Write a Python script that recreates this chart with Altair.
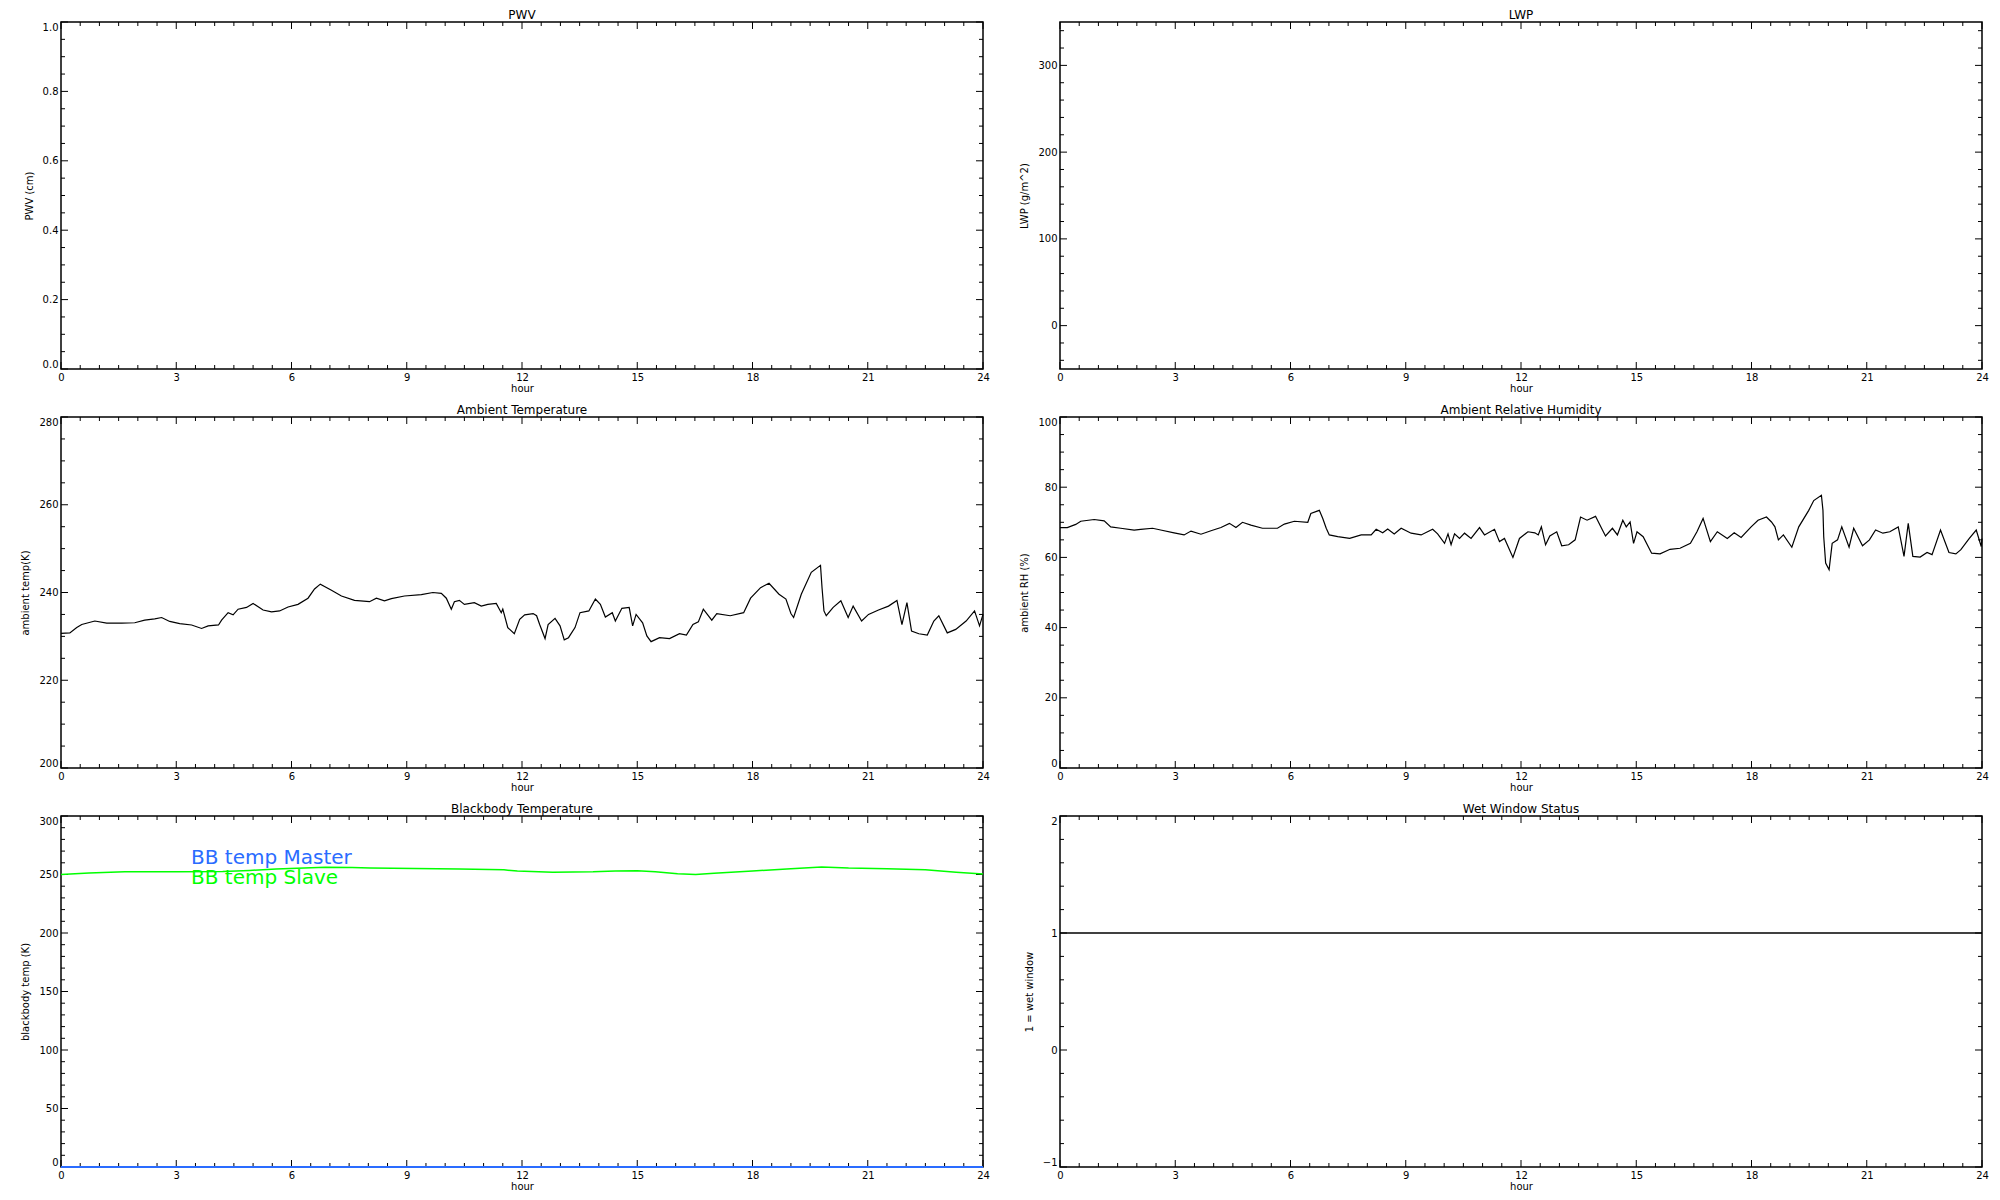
import altair as alt
import pandas as pd

# ---------------- data ----------------
panel_titles = ["PWV", "LWP", "Ambient Temperature", "Ambient Relative Humidity",
                "Blackbody Temperature", "Wet Window Status"]
y_titles = ["PWV (cm)", "LWP (g/m^2)", "ambient temp(K)", "ambient RH (%)",
            "blackbody temp (K)", "1 = wet window"]

temp_hour = [0, 0.23, 0.41, 0.54, 0.71, 0.88, 1.19, 1.58, 1.92, 2.18,
             2.44, 2.62, 2.83, 3.09, 3.4, 3.66, 3.83, 4.1, 4.18, 4.35,
             4.48, 4.61, 4.83, 5.0, 5.26, 5.48, 5.69, 5.91, 6.17, 6.43,
             6.6, 6.75, 7.04, 7.3, 7.64, 8.03, 8.21, 8.42, 8.6, 8.94,
             9.38, 9.68, 9.9, 10.03, 10.16, 10.24, 10.37, 10.5, 10.76, 10.94,
             11.11, 11.33, 11.46, 11.5, 11.63, 11.8, 11.94, 12.07, 12.29, 12.38,
             12.46, 12.6, 12.68, 12.86, 12.99, 13.1, 13.21, 13.38, 13.51, 13.74,
             13.91, 14.04, 14.17, 14.35, 14.43, 14.6, 14.79, 14.88, 14.97, 15.14,
             15.25, 15.36, 15.58, 15.84, 16.1, 16.28, 16.45, 16.59, 16.72, 16.94,
             17.07, 17.42, 17.77, 17.95, 18.21, 18.43, 18.69, 18.87, 19.0, 19.07,
             19.27, 19.53, 19.77, 19.81, 19.86, 19.92, 20.1, 20.3, 20.49, 20.62,
             20.84, 21.02, 21.28, 21.54, 21.76, 21.89, 22.02, 22.14, 22.33, 22.55,
             22.72, 22.85, 23.07, 23.29, 23.56, 23.78, 23.91, 24.0]
temp_val = [230.7, 230.8, 232, 232.7, 233.1, 233.5, 233, 233, 233.1, 233.7,
            234, 234.3, 233.4, 232.9, 232.6, 231.8, 232.4, 232.6, 233.7, 235.4,
            234.9, 236.2, 236.6, 237.5, 236, 235.6, 235.8, 236.7, 237.3, 238.7,
            240.8, 241.9, 240.5, 239.2, 238.2, 237.9, 238.7, 238.1, 238.6, 239.2,
            239.5, 240, 239.8, 238.7, 236.2, 237.9, 238.2, 237.3, 237.7, 236.9,
            237.3, 237.5, 235.4, 236.2, 232, 230.6, 233.9, 234.9, 235.2, 234.7,
            232.7, 229.5, 232.7, 234.1, 232.4, 229.2, 229.7, 232, 235.4, 235.8,
            238.5, 237.3, 234.4, 235.4, 233.5, 236.4, 236.6, 232.4, 235, 233.1,
            230.1, 228.8, 229.7, 229.5, 230.6, 230.3, 232.7, 233.3, 236.2, 233.7,
            235.2, 234.7, 235.4, 238.7, 241.1, 242.1, 239.6, 238.5, 235.2, 234.3,
            239.6, 244.6, 246.2, 241.1, 235.8, 234.7, 236.6, 238.1, 234.3, 236.9,
            233.5, 235, 236, 236.9, 238.2, 232.7, 237.7, 231.2, 230.6, 230.3,
            233.5, 234.7, 230.8, 231.6, 233.5, 235.8, 232.4, 235]

rh_hour = [0, 0.19, 0.41, 0.54, 0.89, 1.15, 1.32, 1.58, 1.93, 2.1,
           2.41, 2.62, 2.97, 3.23, 3.41, 3.67, 3.93, 4.19, 4.41, 4.58,
           4.75, 4.97, 5.27, 5.66, 5.84, 6.1, 6.45, 6.53, 6.75, 6.84,
           6.93, 7.01, 7.23, 7.54, 7.84, 8.1, 8.23, 8.4, 8.53, 8.7,
           8.88, 9.14, 9.4, 9.7, 9.83, 10.01, 10.1, 10.18, 10.27, 10.4,
           10.53, 10.7, 10.92, 11.05, 11.31, 11.44, 11.57, 11.79, 11.96, 12.18,
           12.36, 12.45, 12.53, 12.64, 12.75, 12.93, 13.06, 13.24, 13.41, 13.55,
           13.72, 13.94, 14.12, 14.2, 14.38, 14.51, 14.65, 14.74, 14.84, 14.93,
           15.02, 15.18, 15.4, 15.62, 15.88, 16.14, 16.41, 16.58, 16.74, 16.93,
           17.11, 17.37, 17.55, 17.73, 17.99, 18.17, 18.39, 18.52, 18.61, 18.7,
           18.83, 19.05, 19.23, 19.49, 19.62, 19.82, 19.86, 19.88, 19.93, 20.02,
           20.1, 20.24, 20.35, 20.54, 20.66, 20.89, 21.07, 21.23, 21.42, 21.6,
           21.82, 21.97, 22.08, 22.2, 22.39, 22.57, 22.7, 22.92, 23.14, 23.32,
           23.45, 23.67, 23.85, 23.98, 24.0]
rh_val = [68.5, 68.5, 69.4, 70.3, 70.8, 70.4, 68.7, 68.3, 67.8, 68,
          68.3, 67.8, 67, 66.4, 67.5, 66.6, 67.6, 68.5, 69.7, 68.5,
          70, 69.2, 68.3, 68.3, 69.5, 70.3, 70, 72.5, 73.4, 71.1,
          68.3, 66.4, 65.9, 65.4, 66.4, 66.4, 68, 67, 68.1, 66.7,
          68.3, 66.9, 66.4, 68, 66.7, 64, 66.7, 63.6, 66.7, 65.4,
          66.9, 65.4, 68.5, 66.4, 68, 64.5, 65.4, 60, 65.4, 67.3,
          67, 66.4, 68.7, 63.6, 66.1, 67.3, 63.3, 63.6, 65, 71.5,
          70.6, 71.7, 67.8, 66.1, 68.3, 66.4, 70.6, 68.7, 70.1, 64,
          67.3, 65.9, 61.2, 61, 62.3, 62.6, 64, 67.3, 71.1, 64.5,
          67.3, 65.4, 67, 65.7, 68.7, 70.6, 71.5, 70.1, 68.7, 65,
          66.4, 62.9, 68.7, 73.4, 76.2, 77.7, 73.4, 65.9, 58.4, 56.5,
          64, 65, 68.7, 62.9, 68.3, 63.3, 65, 67.8, 66.9, 67.3,
          68.7, 60.3, 69.7, 60.3, 60.1, 61.4, 60.8, 67.8, 61.4, 61,
          62.2, 65.4, 67.8, 63.1, 65.4]

bb_slave_hour = [0, 0.73, 1.66, 3.05, 4.21, 4.91, 5.6, 6.88, 7.58, 8.05,
                 10.37, 11.53, 11.88, 12.8, 13.85, 14.43, 15.0, 15.47, 16.05, 16.52,
                 17.0, 18.0, 19.0, 19.8, 20.5, 21.5, 22.5, 23.3, 24]
bb_slave_val = [250, 251.2, 252.3, 252.3, 252.6, 253.5, 254.6, 256.3, 256, 255.5,
                254.6, 254, 252.9, 252, 252.3, 252.9, 253.2, 252.3, 250.6, 250,
                251, 253, 255, 256.5, 255.5, 255, 254, 252, 250.5]
bb_master_hour = [0, 24]
bb_master_val = [0, 0]
bb_labels = ["BB temp Master", "BB temp Slave"]

wet_hour = [0, 24]
wet_val = [1, 1]

x_major = [0, 3, 6, 9, 12, 15, 18, 21, 24]

# ---------------- styling ----------------
FONT = "DejaVu Sans"
W = 922
H_TOP, H_ROW = 347, 351
MAJ, MIN = 7, 4
BLUE = "#2a6cff"
GREEN = "#00ff00"


def frange(lo, hi, step):
    n = int(round((hi - lo) / step))
    return [round(lo + i * step, 6) for i in range(n + 1)]


def minors(lo, hi, step, majors):
    return [v for v in frange(lo, hi, step) if all(abs(v - m) > 1e-9 for m in majors)]


x_minor = minors(0, 24, 0.5, x_major)


def panel(title, ytitle, ydom, ymaj, ymin_rng, fmt, H, data_layers=()):
    xs = alt.Scale(domain=[0, 24], nice=False, zero=False)
    ys = alt.Scale(domain=ydom, nice=False, zero=False)
    ymin = minors(ymin_rng[0], ymin_rng[1], ymin_rng[2], ymaj)

    xaxis = alt.Axis(values=x_major, format="d", title="hour", grid=False, domain=False,
                     ticks=False, tickSize=0, labelPadding=3, titlePadding=1,
                     labelFlush=False, labelOverlap=False, labelFont=FONT, titleFont=FONT,
                     labelFontSize=10, titleFontSize=10, titleFontWeight="normal",
                     labelColor="black", titleColor="black")
    yaxis = alt.Axis(values=ymaj, format=fmt, title=ytitle, grid=False, domain=False,
                     ticks=False, tickSize=0, labelPadding=3, titlePadding=8,
                     labelFlush=True, labelOverlap=False, labelFont=FONT, titleFont=FONT,
                     labelFontSize=10, titleFontSize=10, titleFontWeight="normal",
                     labelColor="black", titleColor="black")

    def xr(vals, y0, y1):
        return alt.Chart(pd.DataFrame({"h": vals})).mark_rule(color="black", strokeWidth=1).encode(
            x=alt.X("h:Q", scale=xs, axis=xaxis), y=alt.value(y0), y2=alt.value(y1))

    def yr(vals, x0, x1):
        return alt.Chart(pd.DataFrame({"v": vals})).mark_rule(color="black", strokeWidth=1).encode(
            y=alt.Y("v:Q", scale=ys, axis=yaxis), x=alt.value(x0), x2=alt.value(x1))

    title_layer = alt.Chart(pd.DataFrame({"t": [title]})).mark_text(
        font=FONT, fontSize=12, color="black", align="center", baseline="alphabetic"
    ).encode(text="t:N", x=alt.value(W / 2), y=alt.value(-3))

    layers = [
        xr(x_major, H, H - MAJ),
        xr(x_major, 0, MAJ),
        xr(x_minor, H, H - MIN),
        xr(x_minor, 0, MIN),
        yr(ymaj, 0, MAJ),
        yr(ymaj, W, W - MAJ),
        yr(ymin, 0, MIN),
        yr(ymin, W, W - MIN),
        title_layer,
    ]
    for lyr in data_layers:
        layers.append(lyr(xs, ys, xaxis, yaxis))
    return alt.layer(*layers).properties(width=W, height=H)


def line_layer(hours, vals, color, sw=1.2):
    df = pd.DataFrame({"h": hours, "v": vals})

    def f(xs, ys, xaxis, yaxis):
        return alt.Chart(df).mark_line(color=color, strokeWidth=sw).encode(
            x=alt.X("h:Q", scale=xs, axis=xaxis), y=alt.Y("v:Q", scale=ys, axis=yaxis))
    return f


def label_layer(text, color, px, py):
    df = pd.DataFrame({"t": [text]})

    def f(xs, ys, xaxis, yaxis):
        return alt.Chart(df).mark_text(color=color, font=FONT, fontSize=20, align="left",
                                       baseline="alphabetic").encode(
            text="t:N", x=alt.value(px), y=alt.value(py))
    return f


p_pwv = panel(panel_titles[0], y_titles[0], [0, 1], [0, 0.2, 0.4, 0.6, 0.8, 1.0], (0, 1, 0.05),
              ".1f", H_TOP)
p_lwp = panel(panel_titles[1], y_titles[1], [-50, 350], [0, 100, 200, 300], (-40, 340, 20),
              "d", H_TOP)
p_tmp = panel(panel_titles[2], y_titles[2], [200, 280], [200, 220, 240, 260, 280],
              (200, 280, 5), "d", H_ROW, [line_layer(temp_hour, temp_val, "black")])
p_rh = panel(panel_titles[3], y_titles[3], [0, 100], [0, 20, 40, 60, 80, 100],
             (0, 100, 5), "d", H_ROW, [line_layer(rh_hour, rh_val, "black")])
p_bb = panel(panel_titles[4], y_titles[4], [0, 300], [0, 50, 100, 150, 200, 250, 300],
             (0, 300, 10), "d", H_ROW,
             [line_layer(bb_slave_hour, bb_slave_val, GREEN, 1.5),
              line_layer(bb_master_hour, bb_master_val, BLUE, 1.8),
              label_layer(bb_labels[0], BLUE, 130, 48),
              label_layer(bb_labels[1], GREEN, 130, 68)])
p_wet = panel(panel_titles[5], y_titles[5], [-1, 2], [-1, 0, 1, 2], (-1, 2, 0.2), "d", H_ROW,
              [line_layer(wet_hour, wet_val, "black", 1.5)])

chart = alt.concat(p_pwv, p_lwp, p_tmp, p_rh, p_bb, p_wet, columns=2,
                   spacing={"row": 48, "column": 77}, bounds="flush", align="each").properties(
    padding={"left": 12, "top": 0, "right": 0, "bottom": 0}, background="white"
).configure_view(stroke="black", strokeWidth=1.5)

chart.save("out.html", embed_options={"renderer": "svg", "actions": False})
